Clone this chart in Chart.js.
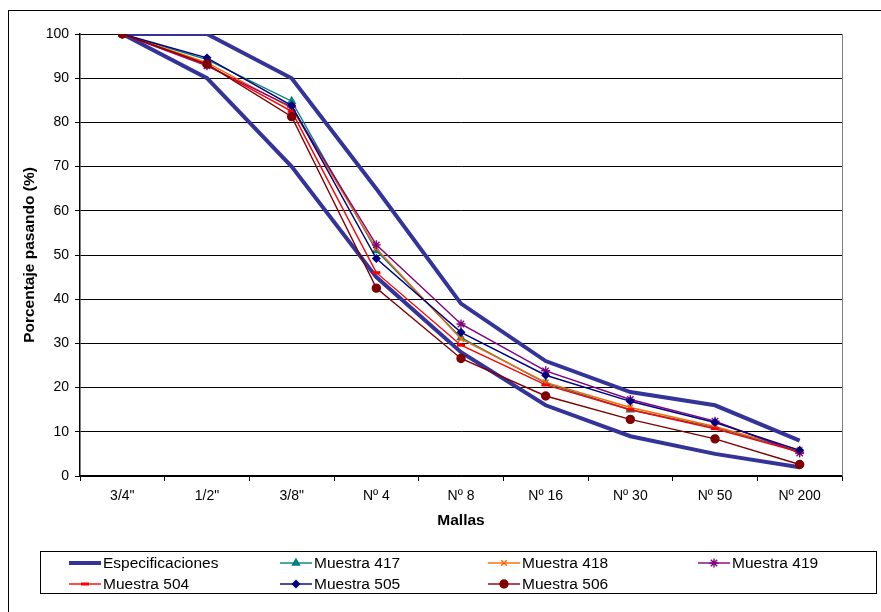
<!DOCTYPE html>
<html>
<head>
<meta charset="utf-8">
<script src="https://cdn.jsdelivr.net/npm/chart.js@4.4.1/dist/chart.umd.min.js"></script>
<style>
html,body{margin:0;padding:0;background:#fff;}
canvas{display:block;}
</style>
</head>
<body>
<canvas id="c" width="881" height="612" style="width:881px;height:612px"></canvas>
<script>
// ---- data ----
const categories = ['3/4"', '1/2"', '3/8"', 'Nº 4', 'Nº 8', 'Nº 16', 'Nº 30', 'Nº 50', 'Nº 200'];
const specUpper = [100, 100, 90, 65, 39, 26, 19, 16, 8];
const specLower = [100, 90, 70, 45, 28, 16, 9, 5, 2];
const m417 = [100, 94.2, 84.8, 51.0, 31.3, 21.0, 15.0, 11.0, 5.6];
const m418 = [100, 93.5, 83.2, 51.5, 31.0, 21.2, 15.5, 11.2, 5.9];
const m419 = [100, 92.8, 83.5, 52.3, 34.4, 23.8, 17.3, 12.4, 5.2];
const m504 = [100, 93.0, 82.5, 46.0, 29.6, 20.6, 15.0, 10.7, 5.4];
const m505 = [100, 94.6, 83.8, 49.2, 32.5, 22.8, 16.9, 12.1, 5.8];
const m506 = [100, 93.2, 81.3, 42.5, 26.6, 18.1, 12.8, 8.4, 2.6];
const yTicks = [0, 10, 20, 30, 40, 50, 60, 70, 80, 90, 100];

const FONT = "'Liberation Sans', Arial, sans-serif";

function sample(label, data, color, style, radius, order, extra) {
  return Object.assign({
    label: label, data: data, borderColor: color, backgroundColor: color,
    pointBackgroundColor: color, pointBorderColor: color,
    borderWidth: 1.4, pointStyle: style, pointRadius: radius, pointBorderWidth: 1.4,
    tension: 0, order: order
  }, extra || {});
}

const datasets = [
  {label: 'Especificaciones', data: specUpper, borderColor: '#333399', backgroundColor: '#333399',
   borderWidth: 4, pointRadius: 0, order: 20, legend: true},
  {label: 'Especificaciones', data: specLower, borderColor: '#333399', backgroundColor: '#333399',
   borderWidth: 4, pointRadius: 0, order: 19, legend: false},
  sample('Muestra 417', m417, '#008080', 'triangle', 4, 7),
  sample('Muestra 418', m418, '#FF6600', 'crossRot', 4, 6),
  sample('Muestra 419', m419, '#800080', 'star', 4.5, 5),
  sample('Muestra 504', m504, '#FF0000', 'line', 4, 4, {pointBorderWidth: 3}),
  sample('Muestra 505', m505, '#000080', 'rectRot', 3.5, 3),
  sample('Muestra 506', m506, '#800000', 'circle', 4, 2)
];

const framePlugin = {
  id: 'frame',
  beforeDraw(chart) {
    const ctx = chart.ctx;
    ctx.save();
    ctx.fillStyle = '#fff';
    ctx.fillRect(0, 0, chart.width, chart.height);
    ctx.strokeStyle = '#000';
    ctx.lineWidth = 1;
    ctx.strokeRect(8.5, 10.5, 1000, 1000);
    ctx.restore();
  },
  afterDraw(chart) {
    const ctx = chart.ctx;
    const a = chart.chartArea;
    ctx.save();
    // plot area right border
    ctx.strokeStyle = '#808080';
    ctx.lineWidth = 1;
    ctx.beginPath();
    ctx.moveTo(Math.round(a.right) + 0.5, a.top);
    ctx.lineTo(Math.round(a.right) + 0.5, a.bottom);
    ctx.stroke();

    // legend box
    ctx.strokeStyle = '#000';
    ctx.strokeRect(40.5, 551.5, 836, 42);
    const cols = [69, 280, 488, 698];
    const rows = [563, 584];
    ctx.font = '15.5px ' + FONT;
    ctx.textBaseline = 'middle';
    ctx.textAlign = 'left';
    const items = chart.data.datasets.filter(d => d.legend !== false);
    items.forEach((d, i) => {
      const x = cols[i % 4], y = rows[Math.floor(i / 4)];
      ctx.strokeStyle = d.borderColor;
      ctx.lineWidth = d.borderWidth;
      ctx.beginPath();
      ctx.moveTo(x, y);
      ctx.lineTo(x + 32, y);
      ctx.stroke();
      if (d.pointRadius > 0) {
        ctx.fillStyle = d.pointBackgroundColor;
        ctx.strokeStyle = d.pointBorderColor;
        ctx.lineWidth = d.pointBorderWidth;
        Chart.helpers.drawPoint(ctx, {pointStyle: d.pointStyle, radius: d.pointRadius, rotation: 0, borderWidth: d.pointBorderWidth}, x + 16, y);
      }
      ctx.fillStyle = '#000';
      ctx.fillText(d.label, x + 34, y + 1);
    });
    ctx.restore();
  }
};

new Chart(document.getElementById('c'), {
  type: 'line',
  data: {labels: categories, datasets: datasets},
  options: {
    responsive: false,
    devicePixelRatio: 1,
    animation: false,
    layout: {padding: {left: 0, right: 39, top: 34, bottom: 0}},
    plugins: {legend: {display: false}, tooltip: {enabled: false}},
    scales: {
      x: {
        type: 'category',
        offset: true,
        grid: {offset: true, drawOnChartArea: false, drawTicks: true, tickLength: 5, color: '#000', lineWidth: 1},
        border: {display: true, color: '#000', width: 1.5},
        ticks: {color: '#000', font: {family: FONT, size: 14}, padding: 7, maxRotation: 0, autoSkip: false},
        title: {display: true, text: 'Mallas', color: '#000', font: {family: FONT, size: 15.5, weight: 'bold'}, padding: {top: 0, bottom: 82}},
        afterFit(s) { s.height = 136; }
      },
      y: {
        min: 0, max: 100,
        afterBuildTicks(s) { s.ticks = yTicks.map(v => ({value: v})); },
        grid: {color: '#000', lineWidth: 1, drawTicks: true, tickLength: 5},
        border: {display: true, color: '#000', width: 1.5},
        ticks: {color: '#000', font: {family: FONT, size: 14}, padding: 6},
        title: {display: true, text: 'Porcentaje pasando (%)', color: '#000', font: {family: FONT, size: 15.5, weight: 'bold'}, padding: {top: 20, bottom: 0}},
        afterFit(s) { s.width = 80; }
      }
    }
  },
  plugins: [framePlugin]
});
</script>
</body>
</html>
